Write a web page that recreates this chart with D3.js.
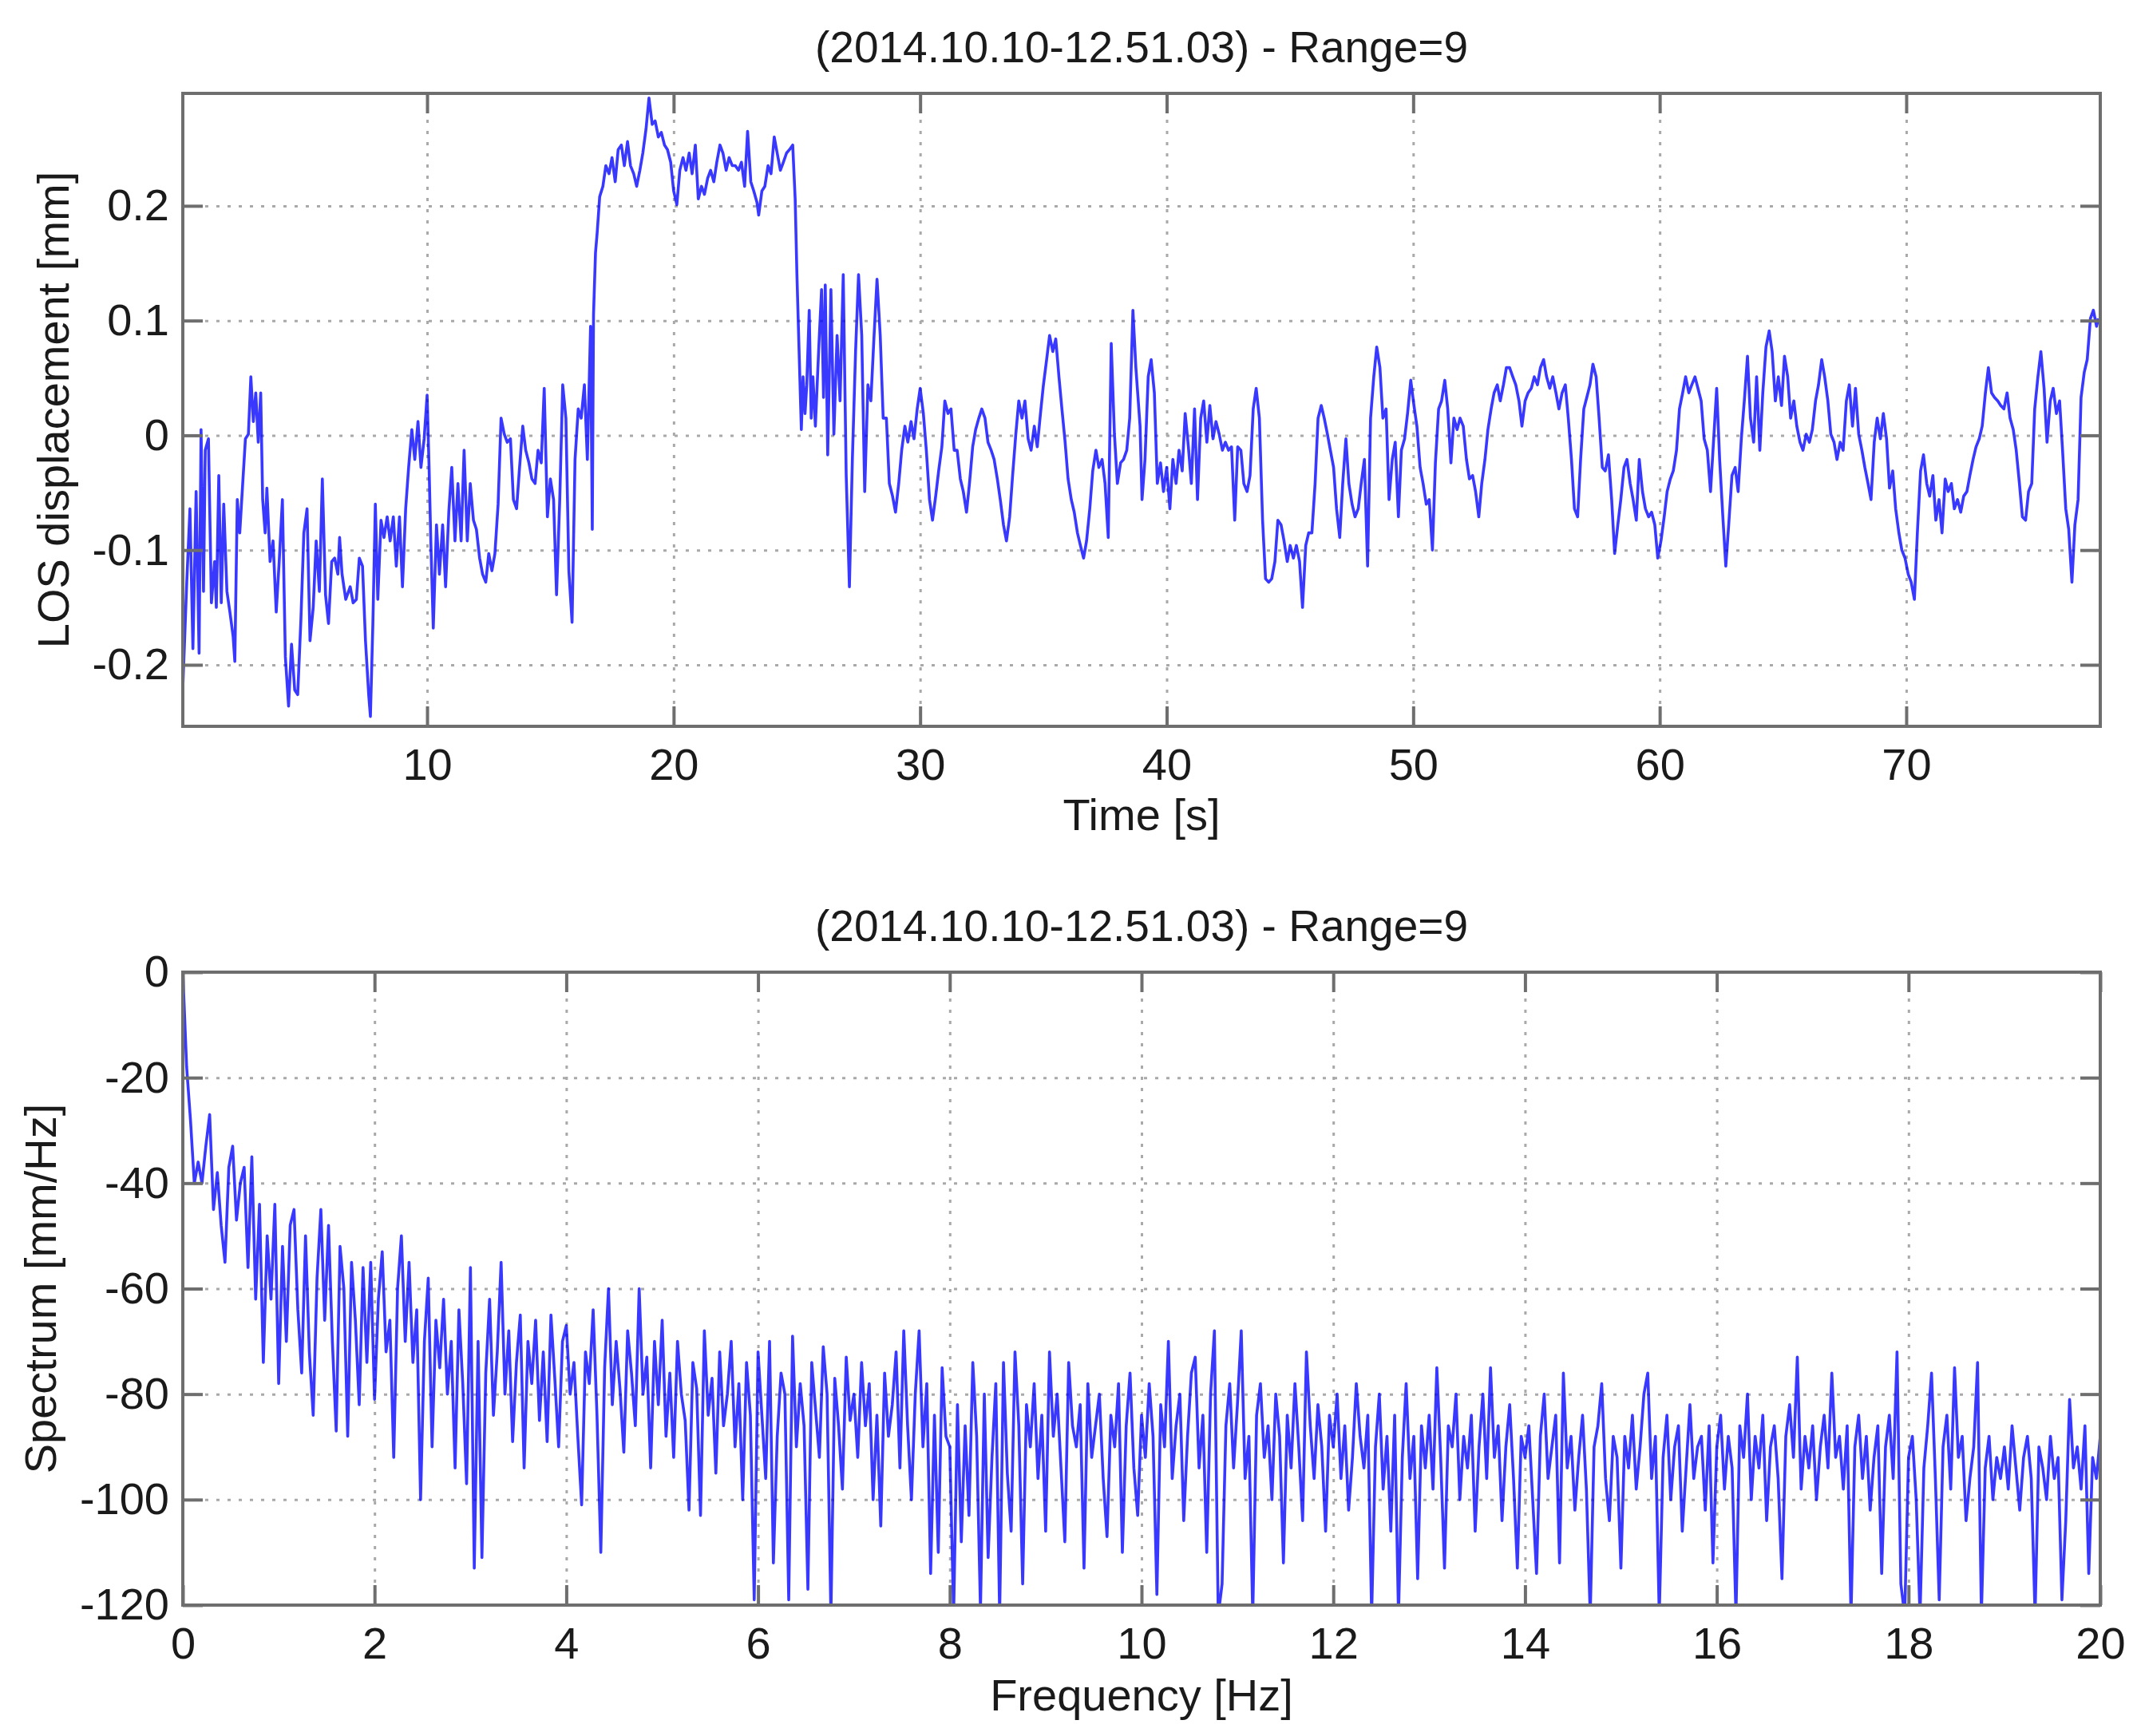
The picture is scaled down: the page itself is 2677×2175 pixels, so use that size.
<!DOCTYPE html>
<html>
<head>
<meta charset="utf-8">
<script src="https://cdn.jsdelivr.net/npm/d3@7"></script>
<style>
  html, body { margin: 0; padding: 0; background: #fff; }
  text { font-family: "Liberation Sans", Arial, sans-serif; fill: #1a1a1a; }
</style>
</head>
<body>
<script>
// Titles and axis labels
const chartTitle = "(2014.10.10-12.51.03) - Range=9";
const timeLabel = "Time [s]";
const losLabel = "LOS displacement [mm]";
const freqLabel = "Frequency [Hz]";
const specLabel = "Spectrum [mm/Hz]";

// Ticks
const timeTicks = [10, 20, 30, 40, 50, 60, 70];
const losTicks = [-0.2, -0.1, 0, 0.1, 0.2];
const freqTicks = [0, 2, 4, 6, 8, 10, 12, 14, 16, 18, 20];
const specTicks = [-120, -100, -80, -60, -40, -20, 0];

// Axis limits (tight)
const timeDomain = [0.09, 77.87];
const losDomain = [-0.2536, 0.298];
const freqDomain = [0, 20];
const specDomain = [-120, 0];

// LOS displacement: [time s, displacement mm]
const losTrace = [
  [0.08,-0.226],[0.25,-0.128],[0.38,-0.064],[0.50,-0.186],[0.63,-0.049],[0.75,-0.190],[0.83,0.005],[0.93,-0.136],
  [1.00,-0.013],[1.13,-0.003],[1.20,-0.085],[1.25,-0.146],[1.38,-0.110],[1.45,-0.150],[1.55,-0.035],[1.65,-0.146],
  [1.75,-0.060],[1.88,-0.136],[2.00,-0.154],[2.13,-0.175],[2.20,-0.197],[2.30,-0.056],[2.40,-0.085],[2.50,-0.049],
  [2.63,-0.003],[2.75,0.001],[2.85,0.051],[2.95,0.012],[3.05,0.037],[3.15,-0.006],[3.25,0.037],[3.33,-0.056],
  [3.43,-0.085],[3.50,-0.046],[3.63,-0.110],[3.75,-0.092],[3.88,-0.154],[4.00,-0.110],[4.13,-0.056],[4.25,-0.193],
  [4.38,-0.236],[4.50,-0.182],[4.63,-0.222],[4.75,-0.226],[4.88,-0.161],[5.00,-0.085],[5.13,-0.064],[5.25,-0.179],
  [5.38,-0.150],[5.50,-0.092],[5.63,-0.136],[5.75,-0.038],[5.88,-0.139],[6.00,-0.164],[6.13,-0.110],[6.25,-0.107],
  [6.38,-0.121],[6.45,-0.089],[6.55,-0.121],[6.70,-0.143],[6.88,-0.132],[7.00,-0.146],[7.13,-0.143],[7.25,-0.107],
  [7.38,-0.114],[7.50,-0.179],[7.63,-0.226],[7.70,-0.245],[7.80,-0.164],[7.90,-0.060],[8.00,-0.143],[8.13,-0.074],
  [8.25,-0.089],[8.38,-0.071],[8.50,-0.092],[8.63,-0.071],[8.75,-0.114],[8.88,-0.071],[9.00,-0.132],[9.13,-0.064],
  [9.25,-0.028],[9.38,0.005],[9.50,-0.021],[9.63,0.012],[9.75,-0.028],[9.88,-0.003],[10.00,0.035],[10.08,-0.028],
  [10.15,-0.092],[10.25,-0.168],[10.38,-0.078],[10.50,-0.121],[10.63,-0.078],[10.75,-0.132],[10.88,-0.067],[11.00,-0.028],
  [11.13,-0.092],[11.25,-0.042],[11.38,-0.092],[11.50,-0.013],[11.63,-0.092],[11.75,-0.042],[11.88,-0.074],[12.00,-0.082],
  [12.13,-0.107],[12.25,-0.121],[12.38,-0.128],[12.50,-0.103],[12.63,-0.118],[12.75,-0.103],[12.88,-0.060],[13.00,0.015],
  [13.13,0.001],[13.25,-0.006],[13.38,-0.003],[13.50,-0.056],[13.63,-0.064],[13.75,-0.028],[13.88,0.008],[14.00,-0.013],
  [14.13,-0.024],[14.25,-0.038],[14.38,-0.042],[14.50,-0.013],[14.63,-0.024],[14.75,0.041],[14.88,-0.071],[15.00,-0.038],
  [15.13,-0.056],[15.25,-0.139],[15.38,-0.056],[15.50,0.044],[15.63,0.015],[15.75,-0.118],[15.88,-0.163],[16.00,-0.021],
  [16.13,0.023],[16.25,0.015],[16.38,0.044],[16.50,-0.021],[16.63,0.095],[16.70,-0.082],[16.75,0.105],[16.83,0.159],
  [16.90,0.177],[17.00,0.208],[17.13,0.217],[17.25,0.235],[17.38,0.228],[17.50,0.242],[17.63,0.221],[17.75,0.249],
  [17.88,0.253],[18.00,0.235],[18.13,0.256],[18.25,0.235],[18.38,0.228],[18.50,0.217],[18.63,0.231],[18.75,0.246],
  [18.88,0.267],[19.00,0.294],[19.13,0.271],[19.25,0.274],[19.38,0.260],[19.50,0.264],[19.63,0.253],[19.75,0.249],
  [19.88,0.238],[20.00,0.213],[20.13,0.201],[20.25,0.231],[20.38,0.242],[20.50,0.231],[20.63,0.246],[20.75,0.228],
  [20.88,0.253],[21.00,0.206],[21.13,0.217],[21.25,0.210],[21.38,0.224],[21.50,0.231],[21.63,0.221],[21.75,0.238],
  [21.88,0.253],[22.00,0.246],[22.13,0.231],[22.25,0.242],[22.38,0.235],[22.50,0.235],[22.63,0.231],[22.75,0.238],
  [22.88,0.217],[23.00,0.265],[23.13,0.221],[23.25,0.213],[23.38,0.203],[23.45,0.192],[23.58,0.213],[23.70,0.217],
  [23.83,0.235],[23.95,0.228],[24.08,0.260],[24.20,0.246],[24.33,0.231],[24.45,0.238],[24.58,0.246],[24.70,0.249],
  [24.83,0.253],[24.93,0.206],[25.00,0.141],[25.08,0.080],[25.18,0.005],[25.25,0.051],[25.33,0.019],[25.40,0.044],
  [25.50,0.109],[25.58,0.015],[25.65,0.051],[25.75,0.008],[25.88,0.073],[26.00,0.127],[26.08,0.033],[26.15,0.131],
  [26.25,-0.017],[26.38,0.127],[26.50,0.001],[26.63,0.087],[26.75,0.030],[26.88,0.140],[27.00,-0.035],[27.13,-0.132],
  [27.25,-0.021],[27.38,0.073],[27.50,0.140],[27.63,0.087],[27.75,-0.049],[27.88,0.044],[28.00,0.030],[28.13,0.087],
  [28.25,0.136],[28.38,0.087],[28.50,0.015],[28.63,0.015],[28.75,-0.042],[28.88,-0.053],[29.00,-0.067],[29.13,-0.042],
  [29.25,-0.013],[29.38,0.008],[29.50,-0.006],[29.63,0.012],[29.75,-0.003],[29.88,0.023],[30.00,0.041],[30.13,0.019],
  [30.25,-0.013],[30.38,-0.056],[30.50,-0.074],[30.63,-0.053],[30.75,-0.031],[30.88,-0.010],[31.00,0.030],[31.13,0.019],
  [31.25,0.023],[31.38,-0.013],[31.50,-0.013],[31.63,-0.038],[31.75,-0.049],[31.88,-0.067],[32.00,-0.042],[32.13,-0.010],
  [32.25,0.005],[32.38,0.015],[32.50,0.023],[32.63,0.015],[32.75,-0.006],[32.88,-0.013],[33.00,-0.021],[33.13,-0.038],
  [33.25,-0.056],[33.38,-0.078],[33.50,-0.092],[33.63,-0.071],[33.75,-0.035],[33.88,0.001],[34.00,0.030],[34.13,0.015],
  [34.25,0.030],[34.38,-0.003],[34.50,-0.013],[34.63,0.008],[34.75,-0.010],[34.88,0.019],[35.00,0.044],[35.13,0.066],
  [35.25,0.087],[35.38,0.073],[35.50,0.084],[35.63,0.051],[35.75,0.023],[35.88,-0.006],[36.00,-0.038],[36.13,-0.056],
  [36.25,-0.067],[36.38,-0.085],[36.50,-0.096],[36.63,-0.107],[36.75,-0.092],[36.88,-0.064],[37.00,-0.031],[37.13,-0.013],
  [37.25,-0.028],[37.38,-0.021],[37.50,-0.042],[37.63,-0.089],[37.75,0.080],[37.88,0.001],[38.00,-0.042],[38.13,-0.024],
  [38.25,-0.021],[38.38,-0.013],[38.50,0.015],[38.63,0.109],[38.75,0.059],[38.92,0.008],[39.00,-0.056],[39.12,-0.021],
  [39.25,0.051],[39.37,0.066],[39.50,0.037],[39.62,-0.042],[39.75,-0.024],[39.87,-0.049],[40.00,-0.028],[40.13,-0.064],
  [40.25,-0.021],[40.38,-0.042],[40.50,-0.013],[40.63,-0.031],[40.75,0.019],[40.88,-0.010],[41.00,-0.042],[41.13,0.023],
  [41.25,-0.056],[41.38,0.015],[41.50,0.030],[41.63,-0.006],[41.75,0.026],[41.88,-0.003],[42.00,0.012],[42.13,0.001],
  [42.26,-0.013],[42.38,-0.006],[42.51,-0.013],[42.63,-0.010],[42.76,-0.074],[42.88,-0.010],[43.01,-0.013],[43.13,-0.042],
  [43.26,-0.049],[43.38,-0.035],[43.51,0.023],[43.63,0.041],[43.76,0.015],[43.89,-0.074],[44.01,-0.125],[44.14,-0.128],
  [44.26,-0.125],[44.39,-0.110],[44.51,-0.074],[44.64,-0.078],[44.76,-0.092],[44.89,-0.110],[45.01,-0.096],[45.14,-0.107],
  [45.26,-0.096],[45.39,-0.110],[45.51,-0.150],[45.64,-0.096],[45.76,-0.085],[45.89,-0.085],[46.02,-0.042],[46.14,0.015],
  [46.27,0.026],[46.39,0.015],[46.52,0.001],[46.64,-0.013],[46.77,-0.028],[46.89,-0.064],[47.02,-0.089],[47.14,-0.042],
  [47.27,-0.003],[47.39,-0.042],[47.52,-0.060],[47.64,-0.071],[47.77,-0.064],[47.89,-0.042],[48.02,-0.021],[48.15,-0.114],
  [48.27,0.015],[48.40,0.051],[48.52,0.077],[48.65,0.059],[48.77,0.015],[48.90,0.023],[49.02,-0.056],[49.15,-0.021],
  [49.27,-0.006],[49.40,-0.071],[49.52,-0.013],[49.65,-0.003],[49.77,0.019],[49.90,0.048],[50.03,0.026],[50.15,0.008],
  [50.28,-0.028],[50.40,-0.042],[50.53,-0.060],[50.65,-0.056],[50.78,-0.100],[50.90,-0.024],[51.03,0.023],[51.15,0.030],
  [51.28,0.048],[51.40,0.023],[51.53,-0.024],[51.65,0.015],[51.78,0.005],[51.90,0.015],[52.03,0.008],[52.16,-0.021],
  [52.28,-0.038],[52.41,-0.035],[52.53,-0.049],[52.66,-0.071],[52.78,-0.042],[52.91,-0.021],[53.03,0.005],[53.16,0.023],
  [53.28,0.037],[53.41,0.044],[53.53,0.030],[53.66,0.044],[53.78,0.059],[53.91,0.059],[54.04,0.051],[54.16,0.044],
  [54.29,0.030],[54.41,0.008],[54.54,0.030],[54.66,0.037],[54.79,0.041],[54.91,0.051],[55.04,0.044],[55.16,0.059],
  [55.29,0.066],[55.41,0.051],[55.54,0.041],[55.66,0.051],[55.79,0.037],[55.91,0.023],[56.04,0.037],[56.17,0.044],
  [56.29,0.015],[56.42,-0.021],[56.54,-0.064],[56.67,-0.071],[56.79,-0.021],[56.92,0.023],[57.04,0.033],[57.17,0.044],
  [57.29,0.062],[57.42,0.051],[57.54,0.015],[57.67,-0.028],[57.79,-0.031],[57.92,-0.017],[58.05,-0.056],[58.17,-0.103],
  [58.30,-0.078],[58.42,-0.056],[58.55,-0.028],[58.67,-0.021],[58.80,-0.042],[58.92,-0.056],[59.05,-0.074],[59.17,-0.021],
  [59.30,-0.049],[59.42,-0.064],[59.55,-0.071],[59.67,-0.067],[59.80,-0.078],[59.92,-0.107],[60.05,-0.092],[60.18,-0.071],
  [60.30,-0.049],[60.43,-0.038],[60.55,-0.031],[60.68,-0.013],[60.80,0.023],[60.93,0.037],[61.05,0.051],[61.18,0.037],
  [61.30,0.044],[61.43,0.051],[61.55,0.041],[61.68,0.030],[61.80,-0.003],[61.93,-0.013],[62.06,-0.049],[62.18,-0.006],
  [62.31,0.041],[62.43,-0.021],[62.56,-0.071],[62.68,-0.114],[62.81,-0.074],[62.93,-0.035],[63.06,-0.028],[63.18,-0.049],
  [63.31,-0.003],[63.43,0.030],[63.56,0.069],[63.68,0.015],[63.81,-0.006],[63.93,0.051],[64.06,-0.013],[64.18,0.037],
  [64.31,0.077],[64.44,0.091],[64.56,0.073],[64.69,0.030],[64.81,0.051],[64.94,0.026],[65.06,0.069],[65.19,0.051],
  [65.31,0.015],[65.44,0.030],[65.56,0.008],[65.69,-0.006],[65.81,-0.013],[65.94,0.001],[66.07,-0.006],[66.19,0.005],
  [66.32,0.030],[66.44,0.044],[66.57,0.066],[66.69,0.051],[66.82,0.030],[66.94,0.001],[67.07,-0.006],[67.19,-0.021],
  [67.32,-0.006],[67.44,-0.013],[67.57,0.030],[67.69,0.044],[67.82,0.008],[67.94,0.041],[68.07,0.001],[68.20,-0.013],
  [68.32,-0.028],[68.45,-0.042],[68.57,-0.056],[68.70,-0.006],[68.82,0.015],[68.95,-0.003],[69.07,0.019],[69.20,-0.003],
  [69.32,-0.046],[69.45,-0.031],[69.57,-0.064],[69.70,-0.085],[69.82,-0.100],[69.95,-0.107],[70.08,-0.121],[70.20,-0.128],
  [70.33,-0.143],[70.45,-0.085],[70.58,-0.031],[70.70,-0.017],[70.83,-0.042],[70.95,-0.053],[71.08,-0.035],[71.20,-0.074],
  [71.33,-0.056],[71.45,-0.085],[71.58,-0.038],[71.70,-0.049],[71.83,-0.042],[71.95,-0.064],[72.08,-0.056],[72.21,-0.067],
  [72.33,-0.053],[72.46,-0.049],[72.58,-0.035],[72.71,-0.021],[72.83,-0.010],[72.96,-0.003],[73.08,0.008],[73.21,0.037],
  [73.33,0.059],[73.46,0.037],[73.58,0.033],[73.71,0.030],[73.83,0.026],[73.96,0.023],[74.09,0.037],[74.21,0.015],
  [74.34,0.005],[74.46,-0.013],[74.59,-0.042],[74.71,-0.071],[74.84,-0.074],[74.96,-0.049],[75.09,-0.042],[75.21,0.023],
  [75.34,0.051],[75.46,0.073],[75.59,0.041],[75.71,-0.006],[75.84,0.030],[75.96,0.041],[76.09,0.019],[76.22,0.030],
  [76.34,-0.013],[76.47,-0.064],[76.59,-0.082],[76.72,-0.128],[76.84,-0.078],[76.97,-0.056],[77.09,0.033],[77.22,0.055],
  [77.34,0.066],[77.47,0.102],[77.59,0.109],[77.72,0.095],[77.79,0.102]
];

// Spectrum in dB, equally spaced bins from 0 to 20 Hz (one row per Hz)
const spectrumDb = [
  0, -18, -28, -40, -36, -40, -33, -27, -45, -38, -48, -55, -37, -33, -47, -40, -37, -56, -35, -62, -44, -74, -50, -62, -44,
  -78, -52, -70, -48, -45, -64, -76, -50, -72, -84, -58, -45, -66, -48, -70, -87, -52, -60, -88, -55, -66, -82, -56, -74, -55,
  -81, -62, -53, -72, -66, -92, -60, -50, -70, -55, -74, -64, -100, -70, -58, -90, -66, -75, -62, -80, -70, -94, -64, -78, -97,
  -56, -113, -70, -111, -76, -62, -84, -72, -55, -80, -68, -89, -74, -65, -94, -70, -78, -66, -85, -72, -89, -65, -77, -90, -70,
  -67, -80, -74, -88, -101, -72, -78, -64, -84, -110, -75, -60, -82, -70, -79, -91, -68, -76, -86, -60, -80, -73, -94, -70, -82,
  -66, -88, -76, -92, -70, -80, -85, -102, -74, -79, -103, -68, -84, -77, -95, -72, -86, -80, -70, -90, -78, -100, -74, -84, -119,
  -72, -84, -96, -70, -112, -88, -76, -80, -119, -69, -90, -78, -86, -117, -74, -83, -92, -71, -80, -122, -77, -86, -98, -73, -85,
  -80, -92, -74, -86, -78, -100, -84, -105, -76, -88, -82, -72, -94, -68, -86, -100, -80, -68, -90, -78, -114, -84, -110, -75, -88,
  -90, -122, -82, -108, -86, -103, -74, -88, -121, -80, -111, -92, -78, -122, -74, -95, -106, -72, -86, -116, -82, -90, -78, -96, -84,
  -106, -72, -88, -80, -94, -108, -74, -86, -90, -82, -113, -78, -92, -86, -80, -96, -107, -84, -90, -78, -110, -86, -76, -94, -103,
  -84, -92, -78, -88, -118, -82, -90, -70, -96, -86, -80, -104, -88, -76, -73, -94, -84, -110, -80, -68, -122, -116, -86, -78, -94,
  -82, -68, -96, -88, -122, -84, -78, -92, -86, -100, -80, -88, -112, -84, -94, -78, -90, -104, -72, -86, -96, -82, -90, -106, -84,
  -90, -80, -96, -86, -102, -92, -78, -88, -94, -84, -122, -90, -80, -98, -88, -106, -84, -122, -92, -78, -96, -88, -115, -86, -94,
  -84, -98, -75, -92, -113, -86, -90, -80, -100, -88, -94, -84, -106, -90, -80, -96, -75, -92, -86, -104, -90, -82, -96, -113, -88,
  -92, -86, -100, -114, -88, -80, -96, -90, -84, -112, -76, -94, -88, -102, -92, -84, -98, -122, -90, -86, -78, -96, -104, -88, -92,
  -113, -88, -94, -84, -98, -90, -80, -76, -96, -88, -122, -92, -84, -100, -90, -86, -106, -94, -82, -96, -90, -88, -102, -86, -112,
  -90, -84, -98, -88, -94, -122, -86, -92, -80, -100, -88, -94, -84, -104, -90, -86, -96, -115, -88, -82, -92, -73, -98, -88, -94,
  -86, -100, -90, -84, -94, -76, -92, -88, -98, -86, -122, -90, -84, -96, -88, -102, -92, -86, -114, -90, -84, -96, -72, -116, -122,
  -92, -88, -100, -122, -94, -86, -76, -96, -119, -90, -84, -98, -75, -92, -88, -104, -96, -90, -74, -122, -94, -88, -100, -92, -96,
  -90, -98, -86, -94, -102, -92, -88, -96, -122, -90, -94, -100, -88, -96, -92, -119, -104, -81, -94, -90, -98, -86, -114, -92, -96,
  -88
];

function drawPanel(svg, panel) {
    const x = d3.scaleLinear().domain(panel.xDomain).range([panel.left, panel.right]);
    const y = d3.scaleLinear().domain(panel.yDomain).range([panel.bottom, panel.top]);
    const w = panel.right - panel.left;
    const h = panel.bottom - panel.top;
    const g = svg.append("g");

    // Dotted grid
    const grid = g.append("g").attr("class", "grid");
    grid.append("g")
      .attr("transform", `translate(0,${panel.bottom})`)
      .call(d3.axisBottom(x).tickValues(panel.xTicks).tickSize(-h).tickFormat(""));
    grid.append("g")
      .attr("transform", `translate(${panel.left},0)`)
      .call(d3.axisLeft(y).tickValues(panel.yTicks).tickSize(-w).tickFormat(""));
    grid.selectAll(".domain").remove();
    grid.selectAll("line")
      .attr("stroke", "#a9a9a9")
      .attr("stroke-width", 3)
      .attr("stroke-dasharray", "4,10");

    // Data line, clipped to the box
    const clipId = "clip-" + panel.name;
    svg.append("clipPath").attr("id", clipId)
      .append("rect")
      .attr("x", panel.left).attr("y", panel.top)
      .attr("width", w).attr("height", h);
    const line = d3.line().x(d => x(d[0])).y(d => y(d[1]));
    g.append("path")
      .datum(panel.points)
      .attr("clip-path", `url(#${clipId})`)
      .attr("fill", "none")
      .attr("stroke", "#0000ff")
      .attr("stroke-opacity", 0.78)
      .attr("stroke-width", 3.6)
      .attr("stroke-linejoin", "round")
      .attr("d", line);

    // Ticks on all four sides, pointing inward
    const tickLen = 25;
    const fmt = d => String(d);
    const axes = [
      {axis: d3.axisBottom(x).tickValues(panel.xTicks).tickFormat(fmt).tickPadding(27), at: `translate(0,${panel.bottom})`},
      {axis: d3.axisLeft(y).tickValues(panel.yTicks).tickFormat(fmt).tickPadding(17), at: `translate(${panel.left},0)`},
      {axis: d3.axisTop(x).tickValues(panel.xTicks).tickFormat(""), at: `translate(0,${panel.top})`},
      {axis: d3.axisRight(y).tickValues(panel.yTicks).tickFormat(""), at: `translate(${panel.right},0)`}
    ];
    axes.forEach(a => {
        const ag = g.append("g")
          .attr("transform", a.at)
          .call(a.axis.tickSize(-tickLen).tickSizeOuter(0));
        ag.select(".domain").remove();
        ag.selectAll("line").attr("stroke", "#6e6e6e").attr("stroke-width", 4);
        ag.selectAll("text")
          .attr("fill", "#1a1a1a")
          .style("font-family", "'Liberation Sans', Arial, sans-serif")
          .style("font-size", "56px");
    });

    // Box
    g.append("rect")
      .attr("x", panel.left).attr("y", panel.top)
      .attr("width", w).attr("height", h)
      .attr("fill", "none")
      .attr("stroke", "#6e6e6e")
      .attr("stroke-width", 4);

    // Texts
    g.append("text")
      .attr("x", (panel.left + panel.right) / 2)
      .attr("y", panel.titleY)
      .attr("text-anchor", "middle")
      .style("font-size", "55px")
      .text(panel.title);
    g.append("text")
      .attr("x", (panel.left + panel.right) / 2)
      .attr("y", panel.xLabelY)
      .attr("text-anchor", "middle")
      .style("font-size", "56px")
      .text(panel.xLabel);
    g.append("text")
      .attr("transform", `translate(${panel.yLabelX},${(panel.top + panel.bottom) / 2}) rotate(-90)`)
      .attr("text-anchor", "middle")
      .style("font-size", "56px")
      .text(panel.yLabel);
}

function draw() {
    const width = 2677;
    const height = 2175;
    const svg = d3.select("body").append("svg")
      .attr("width", width)
      .attr("height", height)
      .style("display", "block");
    svg.append("rect").attr("width", width).attr("height", height).attr("fill", "#fff");

    const step = (freqDomain[1] - freqDomain[0]) / (spectrumDb.length - 1);
    const spectrumPoints = spectrumDb.map((v, i) => [freqDomain[0] + i * step, v]);

    drawPanel(svg, {
        name: "los", left: 229, right: 2631, top: 117, bottom: 910,
        xDomain: timeDomain, yDomain: losDomain, xTicks: timeTicks, yTicks: losTicks,
        points: losTrace, title: chartTitle, titleY: 78,
        xLabel: timeLabel, xLabelY: 1040, yLabel: losLabel, yLabelX: 86
    });
    drawPanel(svg, {
        name: "spec", left: 229, right: 2631, top: 1218, bottom: 2011,
        xDomain: freqDomain, yDomain: specDomain, xTicks: freqTicks, yTicks: specTicks,
        points: spectrumPoints, title: chartTitle, titleY: 1179,
        xLabel: freqLabel, xLabelY: 2143, yLabel: specLabel, yLabelX: 70
    });
}

draw();
</script>
</body>
</html>
